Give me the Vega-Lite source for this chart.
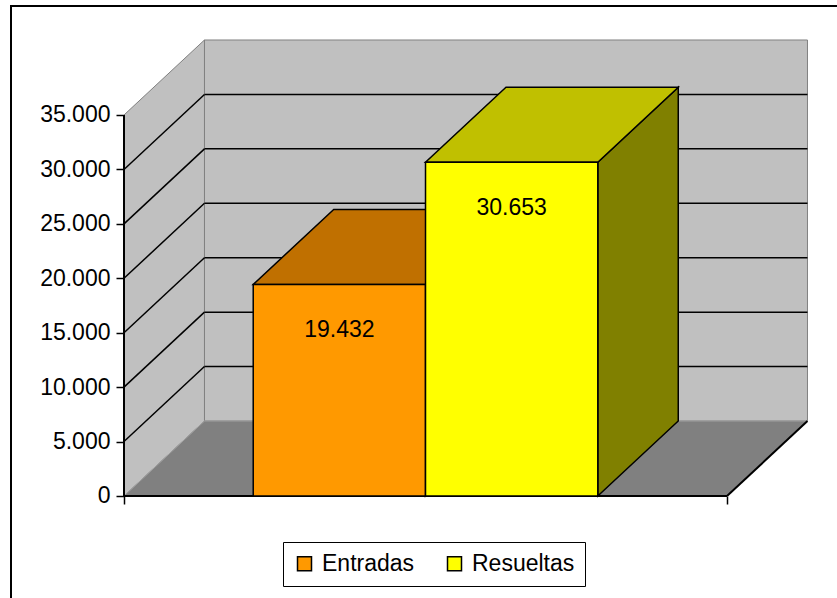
{
  "$schema": "https://vega.github.io/schema/vega-lite/v6.json",
  "width": 827,
  "height": 593,
  "autosize": {"type": "none"},
  "padding": {"left": 11, "top": 6, "right": -1, "bottom": -1},
  "background": "white",
  "config": {
    "view": {"stroke": "black", "strokeWidth": 2},
    "font": "Liberation Sans",
    "text": {"font": "Liberation Sans"}
  },
  "datasets": {
    "barras": [
      {"serie": "Entradas", "valor": 19432},
      {"serie": "Resueltas", "valor": 30653}
    ],
    "rejilla": [{"v": 5000}, {"v": 10000}, {"v": 15000}, {"v": 20000}, {"v": 25000}, {"v": 30000}]
  },
  "layer": [
    {
      "data": {"values": [{}]},
      "mark": {"type": "rect", "fill": "#C0C0C0", "stroke": "#808080", "strokeWidth": 1},
      "encoding": {
        "x": {
          "datum": 0.467, "type": "quantitative",
          "scale": {"domain": [-0.6559, 4.1442], "nice": false, "zero": false},
          "axis": {"orient": "bottom", "offset": -103, "values": [0, 3.5], "labels": false, "domain": false, "grid": false, "ticks": true, "tickSize": 8, "tickWidth": 1.5, "tickColor": "black", "title": null}
        },
        "x2": {"datum": 3.967},
        "y": {
          "datum": 6890, "type": "quantitative",
          "scale": {"domain": [-9462, 45013], "nice": false, "zero": false},
          "axis": {"orient": "left", "offset": -113, "values": [0, 5000, 10000, 15000, 20000, 25000, 30000, 35000], "domain": false, "grid": false, "tickSize": 8, "tickWidth": 1.5, "tickColor": "black", "labelPadding": 6, "labelFontSize": 23, "labelFont": "Liberation Sans", "labelColor": "black", "labelExpr": "replace(format(datum.value, ','), ',', '.')", "title": null}
        },
        "y2": {"datum": 41890}
      }
    },
    {
      "data": {"values": [{}]},
      "transform": [
        {"calculate": "[0, 1]", "as": "t"},
        {"flatten": ["t"]},
        {"calculate": "datum.t * 0.467", "as": "px"},
        {"calculate": "datum.t * 6890", "as": "pyb"},
        {"calculate": "35000 + datum.t * 6890", "as": "pyt"}
      ],
      "mark": {"type": "area", "orient": "vertical", "fill": "#C0C0C0", "stroke": "#808080", "strokeWidth": 1},
      "encoding": {
        "x": {"field": "px", "type": "quantitative"},
        "y": {"field": "pyb", "type": "quantitative"},
        "y2": {"field": "pyt"}
      }
    },
    {
      "data": {"values": [{}]},
      "transform": [
        {"calculate": "[0, 1]", "as": "t"},
        {"flatten": ["t"]},
        {"calculate": "datum.t * 0.467", "as": "px0"},
        {"calculate": "3.5 + datum.t * 0.467", "as": "px1"},
        {"calculate": "datum.t * 6890", "as": "py"}
      ],
      "mark": {"type": "area", "orient": "horizontal", "fill": "#808080", "stroke": "#A0A0A0", "strokeWidth": 1},
      "encoding": {
        "y": {"field": "py", "type": "quantitative"},
        "x": {"field": "px0", "type": "quantitative"},
        "x2": {"field": "px1"}
      }
    },
    {
      "data": {"name": "rejilla"},
      "transform": [{"calculate": "datum.v + 6890", "as": "vb"}],
      "mark": {"type": "rule", "stroke": "black", "strokeWidth": 1.5},
      "encoding": {
        "x": {"datum": 0.467, "type": "quantitative"},
        "x2": {"datum": 3.967},
        "y": {"field": "vb", "type": "quantitative"}
      }
    },
    {
      "data": {"name": "rejilla"},
      "transform": [{"calculate": "datum.v + 6890", "as": "vb"}],
      "mark": {"type": "rule", "stroke": "black", "strokeWidth": 1.5},
      "encoding": {
        "x": {"datum": 0, "type": "quantitative"},
        "x2": {"datum": 0.467},
        "y": {"field": "v", "type": "quantitative"},
        "y2": {"field": "vb"}
      }
    },
    {
      "data": {"values": [{}]},
      "mark": {"type": "rule", "stroke": "black", "strokeWidth": 2},
      "encoding": {
        "x": {"datum": 0, "type": "quantitative"},
        "y": {"datum": 0, "type": "quantitative"},
        "y2": {"datum": 35000}
      }
    },
    {
      "data": {"values": [{}]},
      "mark": {"type": "rule", "stroke": "black", "strokeWidth": 2},
      "encoding": {
        "x": {"datum": 0, "type": "quantitative"},
        "x2": {"datum": 3.5},
        "y": {"datum": 0, "type": "quantitative"}
      }
    },
    {
      "data": {"values": [{}]},
      "mark": {"type": "rule", "stroke": "black", "strokeWidth": 2},
      "encoding": {
        "x": {"datum": 3.5, "type": "quantitative"},
        "x2": {"datum": 3.967},
        "y": {"datum": 0, "type": "quantitative"},
        "y2": {"datum": 6890}
      }
    },
    {
      "data": {"name": "barras"},
      "transform": [
        {"window": [{"op": "row_number", "as": "n"}]},
        {"calculate": "0.75 + datum.n - 1", "as": "x0"},
        {"calculate": "datum.x0 + 1", "as": "x1"},
        {"calculate": "[0, 1]", "as": "t"},
        {"flatten": ["t"]},
        {"calculate": "datum.x1 + datum.t * 0.467", "as": "xs"},
        {"calculate": "datum.t * 6890", "as": "ys0"},
        {"calculate": "datum.valor + datum.t * 6890", "as": "ys1"}
      ],
      "mark": {"type": "area", "orient": "vertical", "stroke": "black", "strokeWidth": 1.5},
      "encoding": {
        "x": {"field": "xs", "type": "quantitative"},
        "y": {"field": "ys0", "type": "quantitative"},
        "y2": {"field": "ys1"},
        "detail": {"field": "serie"},
        "fill": {"condition": {"test": "datum.serie === 'Entradas'", "value": "#805000"}, "value": "#808000"}
      }
    },
    {
      "data": {"name": "barras"},
      "transform": [
        {"window": [{"op": "row_number", "as": "n"}]},
        {"calculate": "0.75 + datum.n - 1", "as": "x0"},
        {"calculate": "datum.x0 + 1", "as": "x1"},
        {"calculate": "[0, 1]", "as": "t"},
        {"flatten": ["t"]},
        {"calculate": "datum.x0 + datum.t * 0.467", "as": "xt0"},
        {"calculate": "datum.x1 + datum.t * 0.467", "as": "xt1"},
        {"calculate": "datum.valor + datum.t * 6890", "as": "yt"}
      ],
      "mark": {"type": "area", "orient": "horizontal", "stroke": "black", "strokeWidth": 1.5},
      "encoding": {
        "y": {"field": "yt", "type": "quantitative"},
        "x": {"field": "xt0", "type": "quantitative"},
        "x2": {"field": "xt1"},
        "detail": {"field": "serie"},
        "fill": {"condition": {"test": "datum.serie === 'Entradas'", "value": "#C07000"}, "value": "#C0C000"}
      }
    },
    {
      "data": {"name": "barras"},
      "transform": [
        {"window": [{"op": "row_number", "as": "n"}]},
        {"calculate": "0.75 + datum.n - 1", "as": "x0"},
        {"calculate": "datum.x0 + 1", "as": "x1"}
      ],
      "mark": {"type": "rect", "stroke": "black", "strokeWidth": 1.5},
      "encoding": {
        "x": {"field": "x0", "type": "quantitative"},
        "x2": {"field": "x1"},
        "y": {"field": "valor", "type": "quantitative"},
        "y2": {"datum": 0},
        "color": {
          "field": "serie", "type": "nominal",
          "scale": {"domain": ["Entradas", "Resueltas"], "range": ["#FF9900", "#FFFF00"]},
          "legend": {"orient": "none", "legendX": 272, "legendY": 536, "direction": "horizontal", "title": null, "symbolType": "square", "symbolSize": 196, "symbolStrokeColor": "black", "symbolStrokeWidth": 1.5, "symbolOpacity": 1, "labelFontSize": 23, "labelFont": "Liberation Sans", "labelColor": "black", "labelOffset": 6, "strokeColor": "black", "fillColor": "white", "padding": 10, "columnPadding": 28}
        }
      }
    },
    {
      "data": {"name": "barras"},
      "transform": [
        {"window": [{"op": "row_number", "as": "n"}]},
        {"calculate": "0.75 + datum.n - 1 + 0.5", "as": "xm"},
        {"calculate": "replace(format(datum.valor, ','), ',', '.')", "as": "etiqueta"}
      ],
      "mark": {"type": "text", "baseline": "middle", "align": "center", "dy": 46, "fontSize": 23, "font": "Liberation Sans", "color": "black"},
      "encoding": {
        "x": {"field": "xm", "type": "quantitative"},
        "y": {"field": "valor", "type": "quantitative"},
        "text": {"field": "etiqueta"}
      }
    }
  ]
}
